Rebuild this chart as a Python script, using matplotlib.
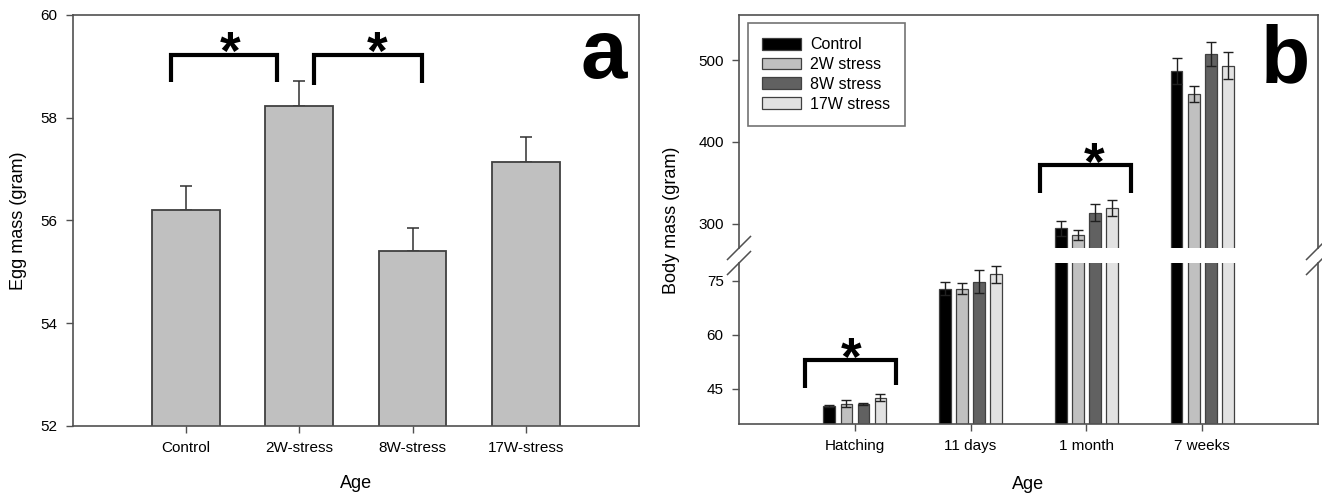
import numpy as np
import matplotlib
matplotlib.use('Agg')
import matplotlib.pyplot as plt

plt.rcParams['font.family'] = ['Liberation Sans', 'DejaVu Sans']

# ---- panel a data ----
egg_groups = ['Control', '2W-stress', '8W-stress', '17W-stress']
egg_mass = [56.21, 58.23, 55.41, 57.14]
egg_err = [0.46, 0.48, 0.44, 0.48]

# ---- panel b data ----
ages = ['Hatching', '11 days', '1 month', '7 weeks']
series_names = ['Control', '2W stress', '8W stress', '17W stress']
body_control = [40.3, 72.9, 294.3, 486.6]
body_2w = [40.9, 72.8, 286.6, 458.5]
body_8w = [40.8, 74.8, 313.8, 507.3]
body_17w = [42.5, 76.9, 319.1, 493.1]
err_control = [0.3, 1.7, 9.4, 15.5]
err_2w = [0.9, 1.5, 6.0, 10.0]
err_8w = [0.3, 3.2, 10.0, 14.6]
err_17w = [1.0, 2.4, 10.0, 16.7]
series_colors = ['#000000', '#c0c0c0', '#616161', '#e2e2e2']

SPINE = '#505050'
EDGE = '#404040'

fig = plt.figure(figsize=(13.22, 4.94), dpi=100)


def style_axes(ax):
    for s in ax.spines.values():
        s.set_color(SPINE)
        s.set_linewidth(1.2)
    ax.tick_params(direction='out', length=5, width=1, color=SPINE,
                   labelsize=11, pad=6)


def bracket(ax, x0, x1, y, yl0, yl1, xs):
    ax.plot([x0, x0, x1, x1], [yl0, y, y, yl1], color='black', lw=3,
            solid_joinstyle='miter', solid_capstyle='butt', zorder=5, clip_on=False)
    ax.annotate('*', xy=(xs, y), xytext=(0, -10.5), textcoords='offset points',
                ha='center', va='baseline', fontsize=38, fontweight='bold', zorder=6)


# ---------------- panel a ----------------
axa = fig.add_axes([0.055, 0.1377, 0.4284, 0.832])
xa = np.arange(1, len(egg_groups) + 1)
axa.bar(xa, egg_mass, width=0.6, color='#c0c0c0', edgecolor=EDGE, linewidth=1.3, zorder=2)
axa.errorbar(xa, egg_mass, yerr=[np.zeros(len(egg_err)), egg_err], fmt='none',
             ecolor='#303030', elinewidth=1.1, capsize=4.3, capthick=1.1, zorder=1)
axa.set_xlim(0, 5)
axa.set_ylim(52, 60)
axa.set_yticks([52, 54, 56, 58, 60])
axa.set_xticks(xa)
axa.set_xticklabels(egg_groups)
style_axes(axa)
axa.set_ylabel('Egg mass (gram)', fontsize=13, labelpad=10)
axa.set_xlabel('Age', fontsize=13, labelpad=14)
bracket(axa, 0.864, 1.804, 59.23, 58.69, 58.69, 1.39)
bracket(axa, 2.13, 3.08, 59.23, 58.63, 58.67, 2.69)

# ---------------- panel b (broken y axis) ----------------
left_b, width_b = 0.559, 0.438
axu = fig.add_axes([left_b, 0.498, width_b, 0.4716])
axl = fig.add_axes([left_b, 0.1417, width_b, 0.3259])

xb = np.arange(1, len(ages) + 1)
series_vals = [body_control, body_2w, body_8w, body_17w]
series_errs = [err_control, err_2w, err_8w, err_17w]
step = 0.147
for ax in (axu, axl):
    for i, (vals, errs, col, name) in enumerate(zip(series_vals, series_errs,
                                                     series_colors, series_names)):
        pos = xb + (i - 1.5) * step
        ax.bar(pos, vals, width=0.1, color=col, edgecolor=EDGE, linewidth=0.9,
               label=name, zorder=2)
        ax.errorbar(pos, vals, yerr=errs, fmt='none', ecolor='#202020',
                    elinewidth=1.0, capsize=3.6, capthick=1.0, zorder=3)
    ax.set_xlim(0, 5)
    style_axes(ax)

axu.set_ylim(270.5, 555)
axu.set_yticks([300, 400, 500])
axu.spines['bottom'].set_visible(False)
axu.tick_params(axis='x', bottom=False, labelbottom=False)

axl.set_ylim(35.2, 80)
axl.set_yticks([45, 60, 75])
axl.spines['top'].set_visible(False)
axl.set_xticks(xb)
axl.set_xticklabels(ages)
axl.set_xlabel('Age', fontsize=13, labelpad=16)

# break marks on both spines
for ax, yc in ((axu, 0.0), (axl, 1.0)):
    bb = ax.get_position()
    dx = 11.5 / (bb.width * 1322)
    dy = 11.5 / (bb.height * 494)
    for xc in (0.0, 1.0):
        ax.plot([xc - dx, xc + dx], [yc - dy, yc + dy], transform=ax.transAxes,
                color=SPINE, lw=1.1, clip_on=False, zorder=10)

leg = axu.legend(loc='upper left', bbox_to_anchor=(0.0155, 0.966), borderaxespad=0,
                 fontsize=11.5, frameon=True, fancybox=False, handlelength=2.4,
                 handleheight=0.75, labelspacing=0.3, handletextpad=0.6,
                 borderpad=0.9)
leg.get_frame().set_edgecolor(SPINE)
leg.get_frame().set_linewidth(1.2)

bracket(axl, 0.57, 1.356, 53.0, 45.2, 46.0, 0.97)
bracket(axu, 2.60, 3.385, 372, 337.8, 337.8, 3.07)

fig.text(672 / 1322, 1 - 220 / 494, 'Body mass (gram)', rotation=90,
         ha='center', va='center', fontsize=13)

fig.text(627 / 1322, 1 - 78 / 494, 'a', ha='right', va='baseline',
         fontsize=60, fontweight='bold')
fig.text(1310 / 1322, 1 - 82 / 494, 'b', ha='right', va='baseline',
         fontsize=58, fontweight='bold')

fig.savefig('out.png', dpi=100)
